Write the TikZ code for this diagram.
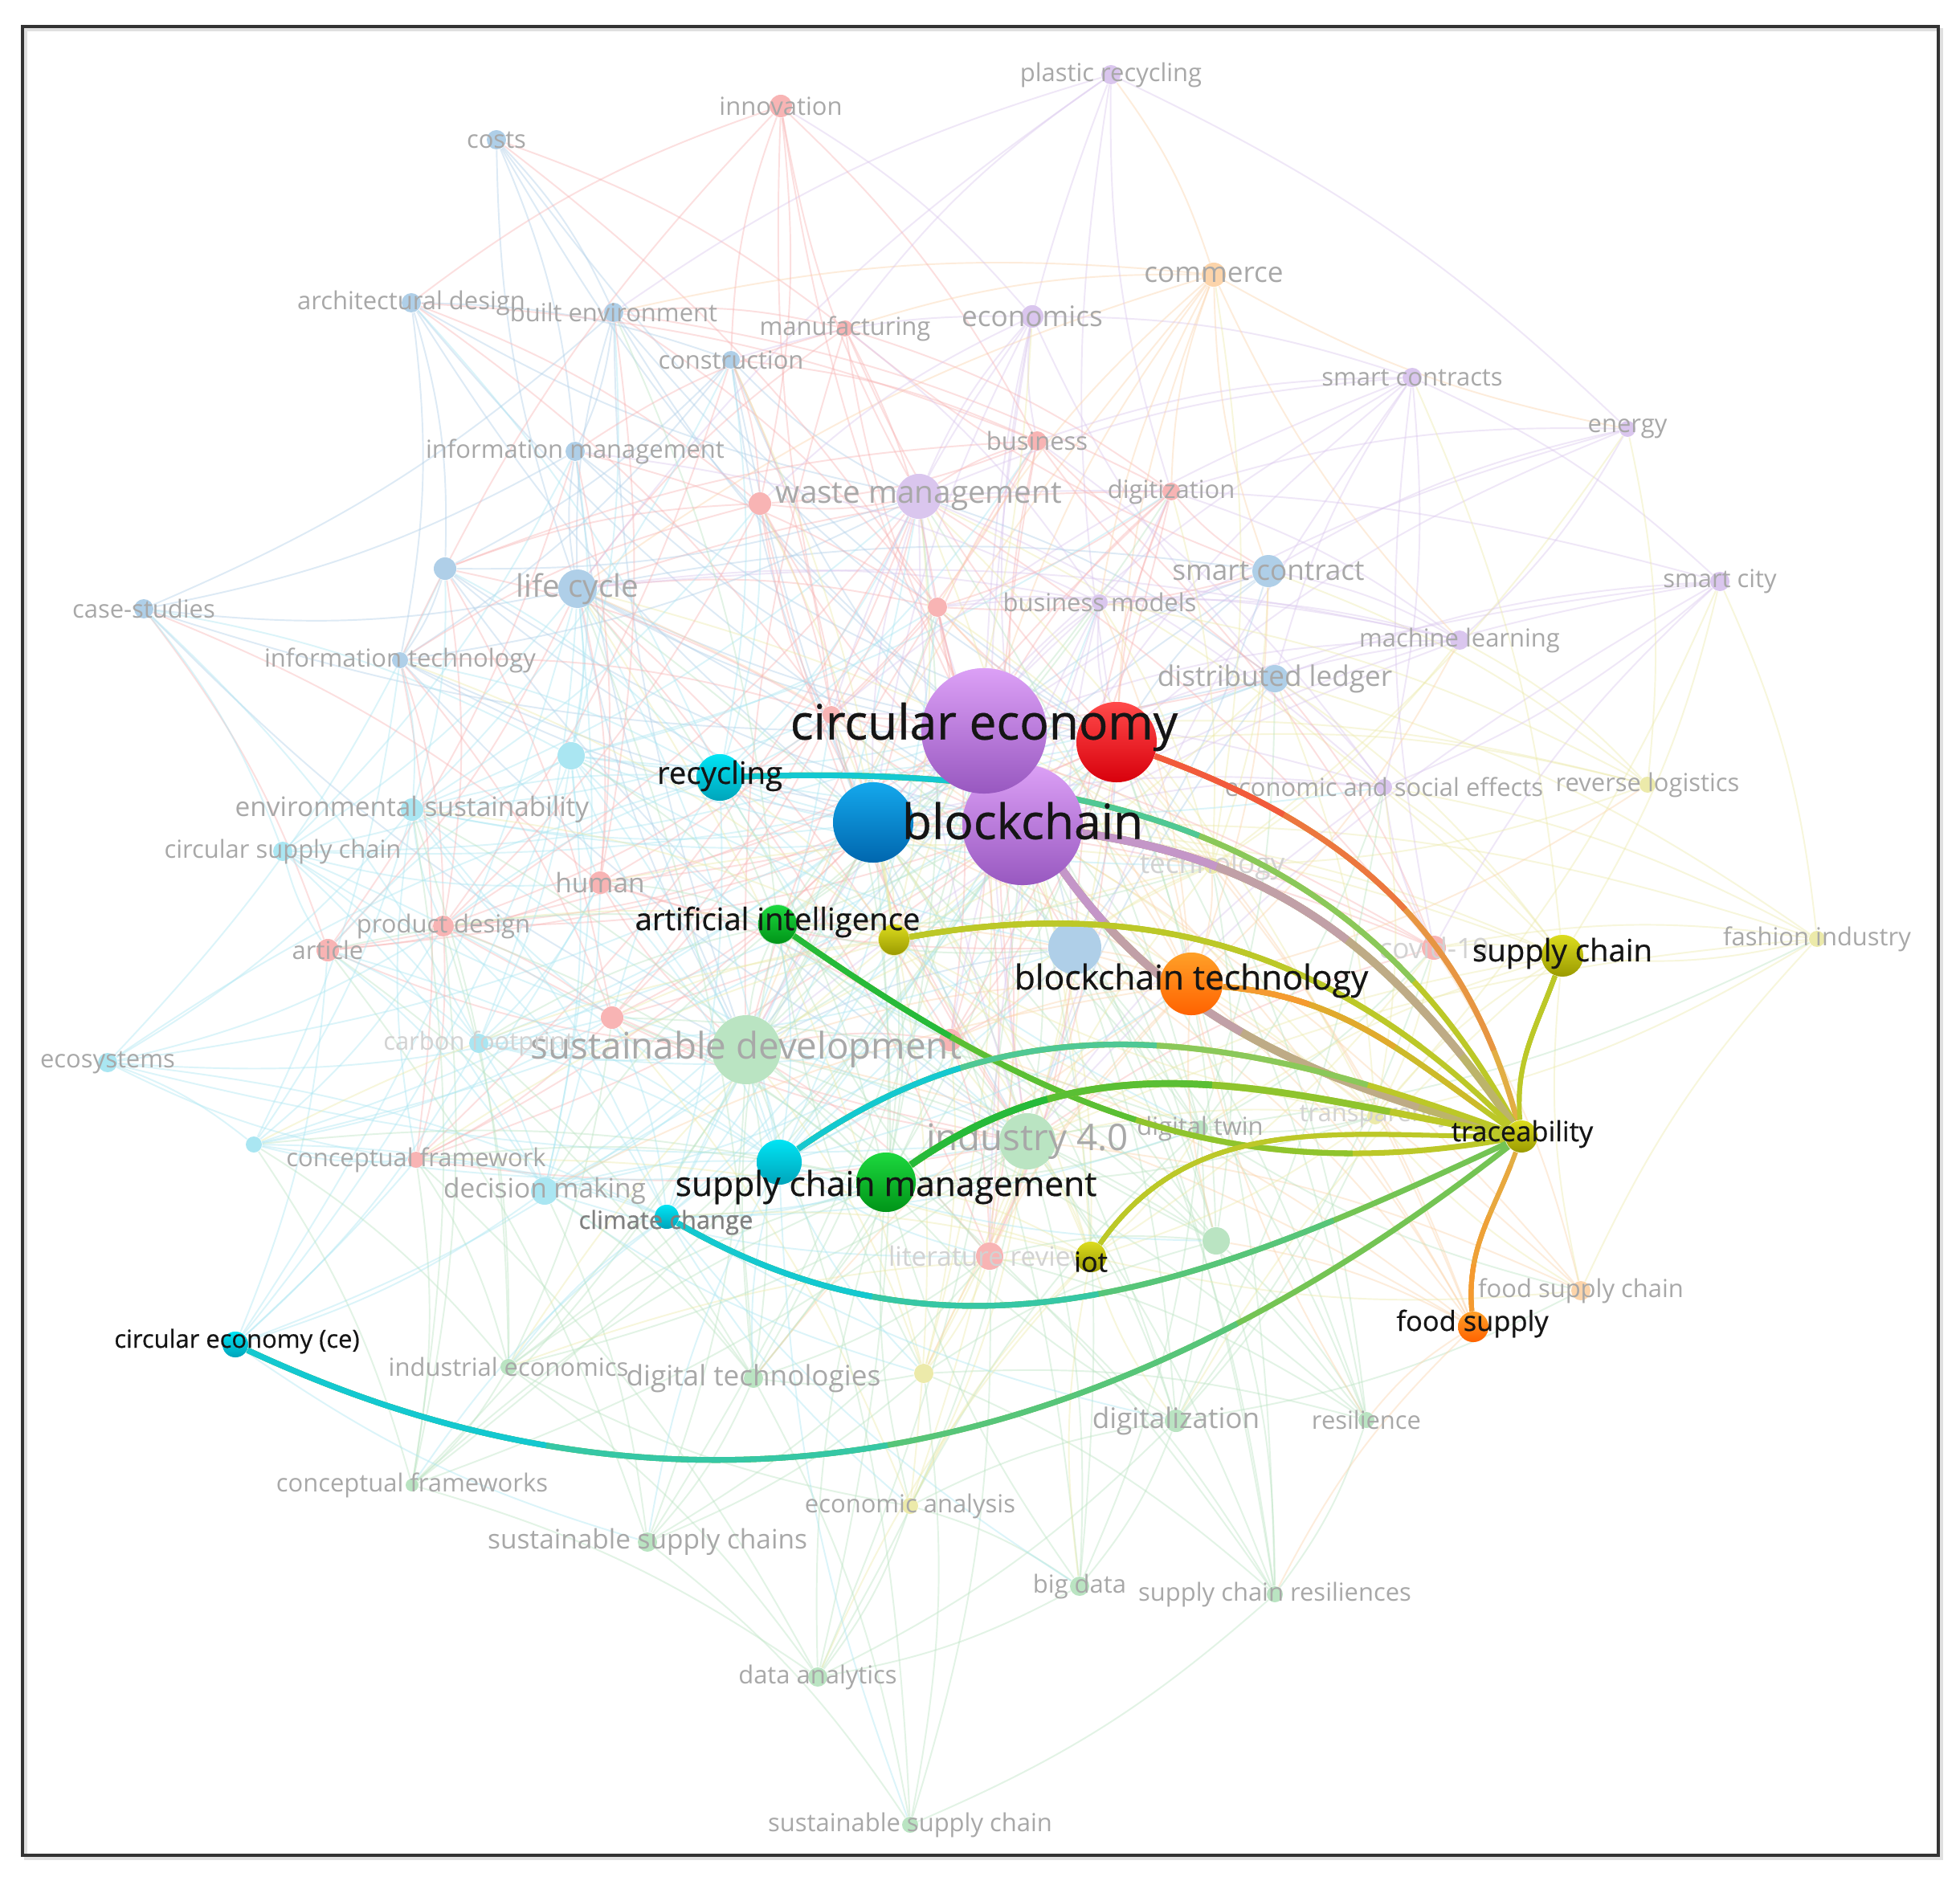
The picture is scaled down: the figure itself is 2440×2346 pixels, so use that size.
\documentclass[tikz,border=0pt]{standalone}
\usepackage{fontspec}
\setmainfont{Open Sans}
\newfontfamily\hlfont{Open Sans}[FakeBold=0.6]
\pgfdeclarelayer{bg}
\pgfdeclarelayer{mid}
\pgfsetlayers{bg,mid,main}
% faint cluster colours
\definecolor{cB}{HTML}{AFCFE8}
\definecolor{cR}{HTML}{F8B4B4}
\definecolor{cP}{HTML}{DAC6EE}
\definecolor{cO}{HTML}{FCD4AA}
\definecolor{cY}{HTML}{ECEAAA}
\definecolor{cC}{HTML}{AAE6F2}
\definecolor{cG}{HTML}{BAE4C2}
\definecolor{cLbl}{HTML}{A8A8A8}
\definecolor{cLbl2}{HTML}{D2D2D2}
\definecolor{cTxt}{HTML}{151515}
% highlighted colours
\definecolor{hPuT}{HTML}{DCA0F6}\definecolor{hPuB}{HTML}{9858C0}
\definecolor{hReT}{HTML}{FF4A4A}\definecolor{hReB}{HTML}{D8000C}
\definecolor{hBlT}{HTML}{14A8EC}\definecolor{hBlB}{HTML}{0066AE}
\definecolor{hCyT}{HTML}{00E4F4}\definecolor{hCyB}{HTML}{00A4BA}
\definecolor{hGrT}{HTML}{1CD83E}\definecolor{hGrB}{HTML}{009418}
\definecolor{hOlT}{HTML}{DCDC1E}\definecolor{hOlB}{HTML}{9A9A00}
\definecolor{hOrT}{HTML}{FFA028}\definecolor{hOrB}{HTML}{FF6200}
% edge colours
\definecolor{eRed}{HTML}{F25A3C}
\definecolor{eOr}{HTML}{F59A30}
\definecolor{eOr2}{HTML}{E2AE44}
\definecolor{eOl}{HTML}{BCC828}
\definecolor{eCy}{HTML}{14C8D0}
\definecolor{eGr}{HTML}{26BA3A}
\definecolor{eGr2}{HTML}{74C454}
\definecolor{ePu}{HTML}{C496C8}
\definecolor{eTan}{HTML}{BCB46A}
\tikzset{
  rad/.style={minimum size=#1*0.569pt},
  bgnode/.style={circle,inner sep=0pt,draw=none},
  bgedge/.style={line width=0.55pt,draw opacity=0.42},
  hnode/.style={circle,inner sep=0pt,draw=none},
  lblBL/.style={inner sep=0pt,text=cLbl,font=\fontsize{13}{13}\selectfont},
  lblBM/.style={inner sep=0pt,text=cLbl,font=\fontsize{11}{11}\selectfont},
  lblBS/.style={inner sep=0pt,text=cLbl,font=\fontsize{10}{10}\selectfont},
  lblBXM/.style={inner sep=0pt,text=cLbl,font=\fontsize{9.5}{9.5}\selectfont},
  lblBX/.style={inner sep=0pt,text=cLbl,font=\fontsize{8.8}{8.8}\selectfont},
  faintlbl/.style={text=cLbl2},
  tXL/.style={inner sep=0pt,text=cTxt,font=\hlfont\fontsize{17.2}{17.2}\selectfont},
  tL/.style={inner sep=0pt,text=cTxt,font=\hlfont\fontsize{12.1}{12.1}\selectfont},
  tM/.style={inner sep=0pt,text=cTxt,font=\hlfont\fontsize{10.9}{10.9}\selectfont},
  tS/.style={inner sep=0pt,text=cTxt,font=\hlfont\fontsize{9.8}{9.8}\selectfont},
  tX/.style={inner sep=0pt,text=cTxt,font=\hlfont\fontsize{8.8}{8.8}\selectfont},
}
\newcommand\hedge[7]{%
  \pgfmathsetmacro\hedA{0.72*#7}%
  \pgfmathsetmacro\hedB{0.46*#7}%
  \pgfmathsetmacro\hedC{0.22*#7}%
  \draw[line width=#4,draw=#6] (#1) #3 (#2);
  \draw[line width=#4,draw=#5!30!#6,dash pattern=on \hedA pt off 9000pt] (#1) #3 (#2);
  \draw[line width=#4,draw=#5!65!#6,dash pattern=on \hedB pt off 9000pt] (#1) #3 (#2);
  \draw[line width=#4,draw=#5,dash pattern=on \hedC pt off 9000pt] (#1) #3 (#2);
}
\def\bgnodes{%
1225/910/78/cP,1273/1027/75/cP,1390/924/50/cR,1087/1024/50/cB,%
929/1307/43/cG,1279/1421/35/cG,719/733/24/cB,1144/618/28/cP,%
618/174/12/cB,512/377/12/cB,764/389/12/cB,910/448/11/cB,716/562/12/cB,%
554/708/14/cB,179/758/12/cB,498/822/10/cB,1579/711/20/cB,1587/845/17/cB,%
1338/1180/33/cB,972/132/14/cR,1052/409/10/cR,1291/549/12/cR,1458/612/11/cR,%
946/627/14/cR,1167/756/12/cR,1035/890/11/cR,747/1099/14/cR,552/1153/13/cR,%
408/1183/14/cR,762/1267/14/cR,1183/1295/14/cR,518/1444/10/cR,1232/1564/17/cR,%
1785/1180/15/cR,1383/93/12/cP,1285/394/14/cP,1369/750/10/cP,1758/470/12/cP,%
2026/534/10/cP,2141/724/12/cP,1817/797/12/cP,1723/980/10/cP,1511/342/15/cO,%
1968/1607/12/cO,2051/977/10/cY,2262/1169/10/cY,1509/1078/10/cY,1712/1390/10/cY,%
1150/1710/12/cY,1133/1875/10/cY,711/941/17/cC,513/1008/14/cC,352/1060/12/cC,%
134/1323/12/cC,596/1299/12/cC,316/1425/10/cC,678/1483/17/cC,1494/1405/10/cG,%
1514/1545/17/cG,633/1702/10/cG,938/1716/12/cG,1464/1769/14/cG,1701/1768/10/cG,%
513/1849/8/cG,806/1920/12/cG,1344/1975/12/cG,1587/1985/10/cG,1018/2088/12/cG,%
1133/2272/10/cG,896/968/29/cC,968/1151/25/cG,1113/1170/20/cY,1483/1225/39/cO,%
1945/1190/26/cY,1834/1652/19/cO,1103/1472/37/cG,970/1447/28/cC,830/1515/15/cC,%
293/1674/16/cC,1358/1565/19/cY}
\begin{document}
\begin{tikzpicture}[x=0.01cm,y=-0.01cm]
\useasboundingbox (0,0) rectangle (2440,2346);
\begin{pgfonlayer}{bg}
\fill[white] (0,0) rectangle (2440,2346);
% faint nodes
\foreach \x/\y/\r/\c [count=\i] in \bgnodes {
  \node[bgnode,rad=\r] (n\i) at (\x,\y) {};
}
% faint connector mesh
\foreach \xa/\ya/\ra/\ca [count=\i] in \bgnodes {
  \foreach \xb/\yb/\rb/\cb [count=\j] in \bgnodes {
    \ifnum\j>\i\relax
      \pgfmathsetmacro\bgd{veclen((\xb-\xa)/100,(\yb-\ya)/100)}
      \pgfmathtruncatemacro\bgok{ifthenelse(\i<9, and(\bgd<11.5, mod(\i+\j,2)==0), or(and(\bgd<6, mod(\i*7+\j*13,2)==0), and(\bgd<8.5, mod(\i*5+\j*11,4)==0)))}
      \ifnum\bgok=1\relax
        \draw[bgedge,draw=\cb] (n\i) to[bend left=9] (n\j);
      \fi
    \fi
  }
}
\foreach \x/\y/\r/\c [count=\i] in \bgnodes {
  \fill[\c] (n\i.center) circle (\r);
}
% faint labels
\node[lblBL] (t5) at (n5) {sustainable development};
\node[lblBL] (t6) at (n6) {industry 4.0};
\node[lblBM] (t7) at (n7) {life cycle};
\node[lblBM] (t8) at (n8) {waste management};
\node[lblBX] (t9) at (n9) {costs};
\node[lblBX] (t10) at (n10) {architectural design};
\node[lblBX] (t11) at (n11) {built environment};
\node[lblBX] (t12) at (n12) {construction};
\node[lblBX] (t13) at (n13) {information management};
\node[lblBX] (t15) at (n15) {case-studies};
\node[lblBX] (t16) at (n16) {information technology};
\node[lblBS] (t17) at (n17) {smart contract};
\node[lblBS] (t18) at (n18) {distributed ledger};
\node[lblBX] (t20) at (n20) {innovation};
\node[lblBX] (t21) at (n21) {manufacturing};
\node[lblBX] (t22) at (n22) {business};
\node[lblBX] (t23) at (n23) {digitization};
\node[lblBXM] (t27) at (n27) {human};
\node[lblBX] (t28) at (n28) {product design};
\node[lblBX] (t29) at (n29) {article};
\node[lblBX] (t32) at (n32) {conceptual framework};
\node[lblBXM,faintlbl] (t33) at (n33) {literature review};
\node[lblBS,faintlbl] (t34) at (n34) {covid-19};
\node[lblBX] (t35) at (n35) {plastic recycling};
\node[lblBS] (t36) at (n36) {economics};
\node[lblBX] (t37) at (n37) {business models};
\node[lblBX] (t38) at (n38) {smart contracts};
\node[lblBX] (t39) at (n39) {energy};
\node[lblBX] (t40) at (n40) {smart city};
\node[lblBX] (t41) at (n41) {machine learning};
\node[lblBX] (t42) at (n42) {economic and social effects};
\node[lblBS] (t43) at (n43) {commerce};
\node[lblBX] (t44) at (n44) {food supply chain};
\node[lblBX] (t45) at (n45) {reverse logistics};
\node[lblBX] (t46) at (n46) {fashion industry};
\node[lblBS,faintlbl] (t47) at (n47) {technology};
\node[lblBX,faintlbl] (t48) at (n48) {transparency};
\node[lblBX] (t50) at (n50) {economic analysis};
\node[lblBXM] (t52) at (n52) {environmental sustainability};
\node[lblBX] (t53) at (n53) {circular supply chain};
\node[lblBX] (t54) at (n54) {ecosystems};
\node[lblBX,faintlbl] (t55) at (n55) {carbon footprint};
\node[lblBXM] (t57) at (n57) {decision making};
\node[lblBX] (t58) at (n58) {digital twin};
\node[lblBX] (t60) at (n60) {industrial economics};
\node[lblBS] (t61) at (n61) {digital technologies};
\node[lblBS] (t62) at (n62) {digitalization};
\node[lblBX] (t63) at (n63) {resilience};
\node[lblBX] (t64) at (n64) {conceptual frameworks};
\node[lblBXM] (t65) at (n65) {sustainable supply chains};
\node[lblBX] (t66) at (n66) {big data};
\node[lblBX] (t67) at (n67) {supply chain resiliences};
\node[lblBX] (t68) at (n68) {data analytics};
\node[lblBX] (t69) at (n69) {sustainable supply chain};
\end{pgfonlayer}
% highlighted nodes
\node[hnode,rad=75,top color=hPuT,bottom color=hPuB] (bc) at (1273,1027) {};
\node[hnode,rad=78,top color=hPuT,bottom color=hPuB] (ce) at (1225,910) {};
\node[hnode,rad=50,top color=hReT,bottom color=hReB] (rd) at (1390,924) {};
\node[hnode,rad=50,top color=hBlT,bottom color=hBlB] (bl) at (1087,1024) {};
\node[hnode,rad=29,top color=hCyT,bottom color=hCyB] (rc) at (896,968) {};
\node[hnode,rad=24,top color=hGrT,bottom color=hGrB] (ai) at (968,1151) {};
\node[hnode,rad=19,top color=hOlT,bottom color=hOlB] (yl) at (1113,1170) {};
\node[hnode,rad=39,top color=hOrT,bottom color=hOrB] (bt) at (1483,1225) {};
\node[hnode,rad=26,top color=hOlT,bottom color=hOlB] (sc) at (1945,1190) {};
\node[hnode,rad=20,top color=hOlT,bottom color=hOlB] (tr) at (1894,1415) {};
\node[hnode,rad=19,top color=hOrT,bottom color=hOrB] (fs) at (1834,1652) {};
\node[hnode,rad=37,top color=hGrT,bottom color=hGrB] (scm) at (1103,1472) {};
\node[hnode,rad=28,top color=hCyT,bottom color=hCyB] (cy) at (970,1447) {};
\node[hnode,rad=15,top color=hCyT,bottom color=hCyB] (cc) at (830,1515) {};
\node[hnode,rad=16,top color=hCyT,bottom color=hCyB] (cec) at (293,1674) {};
\node[hnode,rad=19,top color=hOlT,bottom color=hOlB] (iot) at (1358,1565) {};
% highlighted connectors
\begin{pgfonlayer}{mid}
\hedge{rd}{tr}{to[out=-20,in=105]}{2pt}{eRed}{eOr2}{228}
\hedge{rc}{tr}{.. controls (1400,950) and (1700,1060) ..}{2pt}{eCy}{eOl}{356}
\hedge{ce}{tr}{to[out=-63,in=165]}{2.8pt}{ePu}{eTan}{262}
\hedge{bc}{tr}{to[out=-8,in=125]}{2.8pt}{ePu}{eTan}{222}
\hedge{ai}{tr}{to[out=-35,in=190]}{2pt}{eGr}{eOl}{300}
\hedge{yl}{tr}{to[out=10,in=135]}{2pt}{eOl}{eOl}{265}
\hedge{bt}{tr}{to[out=-5,in=145]}{2pt}{eOr}{eOl}{142}
\hedge{sc}{tr}{to[out=-110,in=95]}{1.7pt}{eOl}{eOl}{65}
\hedge{fs}{tr}{to[out=95,in=-110]}{1.7pt}{eOr}{eOr2}{75}
\hedge{iot}{tr}{to[out=55,in=180]}{1.7pt}{eOl}{eOl}{176}
\hedge{cy}{tr}{to[out=35,in=160]}{2pt}{eCy}{eOl}{293}
\hedge{scm}{tr}{to[out=35,in=170]}{2.4pt}{eGr}{eOl}{245}
\hedge{cc}{tr}{to[out=-30,in=205]}{2pt}{eCy}{eGr2}{336}
\hedge{cec}{tr}{to[out=-25,in=218]}{2pt}{eCy}{eGr2}{506}
\end{pgfonlayer}
% highlighted labels
\node[tXL] (lce) at (1225,905) {circular economy};
\node[tXL] (lbc) at (1273,1022) {blockchain};
\node[tM] (lrc) at (896,966) {recycling};
\node[tM] (lai) at (968,1148) {artificial intelligence};
\node[tL] (lbt) at (1483,1221) {blockchain technology};
\node[tM] (lsc) at (1945,1187) {supply chain};
\node[tS] (ltr) at (1895,1412) {traceability};
\node[tS] (lfs) at (1833,1648) {food supply};
\node[tS] (liot) at (1358,1571) {iot};
\node[tL] (lscm) at (1103,1478) {supply chain management};
\node[tX,text=black!50] (lcc) at (829,1522) {climate change};
\node[tX] (lcec) at (295,1670) {circular economy (ce)};
% frame
\draw[line width=1.2pt,draw=black!12] (32,37) rectangle (2417,2314);
\draw[line width=1.15pt,draw=black!80] (28,33) rectangle (2413,2310);
\end{tikzpicture}
\end{document}
